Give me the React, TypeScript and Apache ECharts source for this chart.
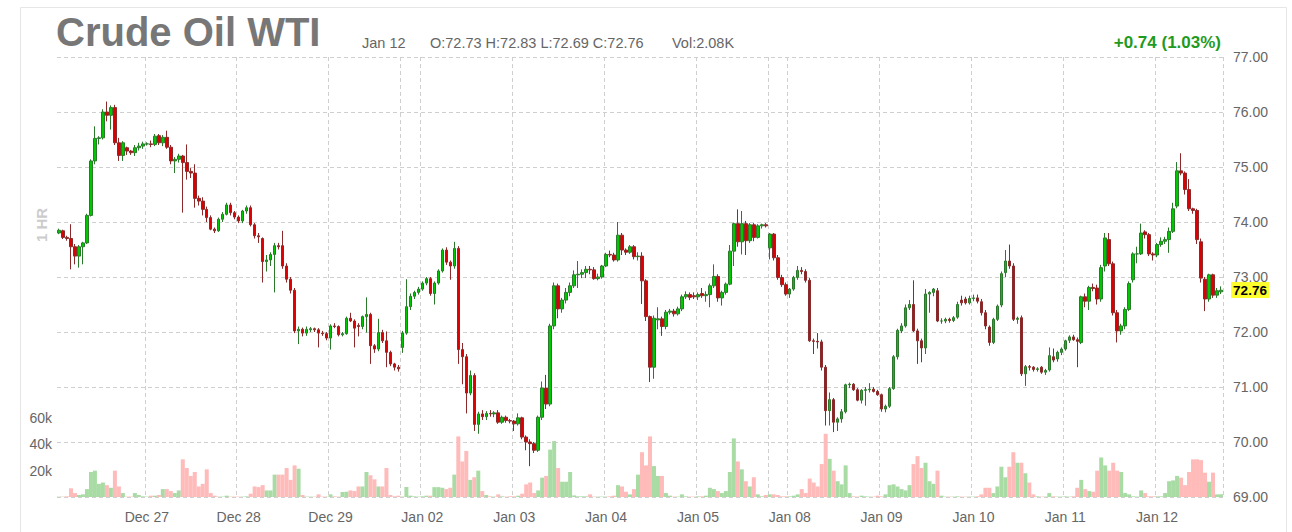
import React, { useEffect, useRef } from "react";
import * as echarts from "echarts";

type OHLC = [number, number, number, number]; // open, high, low, close

const FONT = '"Liberation Sans", Arial, Helvetica, sans-serif';

const dayLabels = ["Dec 26", "Dec 27", "Dec 28", "Dec 29", "Jan 02", "Jan 03", "Jan 04", "Jan 05", "Jan 08", "Jan 09", "Jan 10", "Jan 11", "Jan 12"];

// start of a new weekly session, counted in candles from the day's first candle
const sessionBreaks: [string, number][] = [["Dec 29", 18], ["Jan 05", 18]];

const titleText = "Crude Oil WTI";
const headerDate = "Jan 12";
const changeText = "+0.74 (1.03%)";
const intervalText = "1 HR";

const dec26: OHLC[] = [
  [73.80, 73.88, 73.78, 73.85], [73.84, 73.86, 73.69, 73.72], [73.72, 73.75, 73.66, 73.70], [73.70, 73.96, 73.14, 73.55],
  [73.55, 73.60, 73.23, 73.38], [73.38, 73.58, 73.17, 73.55], [73.55, 73.64, 73.23, 73.62], [73.62, 74.15, 73.60, 74.12],
  [74.12, 75.14, 74.10, 75.11], [75.11, 75.74, 75.05, 75.52], [75.52, 75.56, 75.41, 75.53], [75.53, 76.05, 75.50, 76.00],
  [76.00, 76.19, 75.83, 75.94], [75.94, 76.12, 75.68, 76.08], [76.08, 76.13, 75.40, 75.44], [75.44, 75.53, 75.11, 75.21],
  [75.21, 75.47, 75.11, 75.44], [75.35, 75.37, 75.22, 75.29], [75.29, 75.31, 75.22, 75.26], [75.26, 75.40, 75.20, 75.35],
  [75.35, 75.44, 75.30, 75.38], [75.38, 75.46, 75.33, 75.42],
];
const dec27: OHLC[] = [
  [75.42, 75.45, 75.39, 75.42], [75.42, 75.48, 75.36, 75.41], [75.41, 75.60, 75.38, 75.56], [75.57, 75.60, 75.40, 75.44],
  [75.44, 75.58, 75.38, 75.54], [75.54, 75.66, 75.33, 75.36], [75.36, 75.40, 75.05, 75.11], [75.11, 75.18, 74.89, 75.14],
  [75.14, 75.24, 75.08, 75.20], [75.20, 75.22, 74.17, 75.08], [75.08, 75.41, 74.77, 74.92], [74.92, 74.98, 74.80, 74.89],
  [74.89, 75.05, 74.26, 74.43], [74.43, 74.48, 74.30, 74.38], [74.38, 74.45, 74.12, 74.23], [74.23, 74.28, 74.00, 74.08],
  [74.08, 74.12, 73.85, 73.87], [73.87, 73.90, 73.80, 73.84], [73.84, 74.08, 73.82, 74.05], [74.05, 74.18, 74.00, 74.14],
  [74.14, 74.35, 74.12, 74.31], [74.31, 74.35, 74.12, 74.17], [74.17, 74.20, 74.05, 74.09],
];
const dec28: OHLC[] = [
  [74.09, 74.12, 73.98, 74.02], [74.02, 74.22, 73.98, 74.20], [74.20, 74.30, 74.15, 74.26], [74.26, 74.30, 73.92, 73.95],
  [73.95, 73.98, 73.70, 73.75], [73.75, 73.80, 73.62, 73.73], [73.70, 73.72, 72.90, 73.28], [73.28, 73.40, 73.10, 73.31],
  [73.31, 73.45, 73.20, 73.41], [73.41, 73.62, 72.72, 73.57], [73.57, 73.62, 73.50, 73.55], [73.57, 73.84, 73.15, 73.20],
  [73.20, 73.25, 72.90, 72.96], [72.96, 73.00, 72.70, 72.76], [72.76, 72.80, 71.98, 72.02], [72.02, 72.10, 71.78, 72.05],
  [72.05, 72.08, 71.92, 71.98], [71.98, 72.10, 71.93, 72.05], [72.04, 72.09, 72.00, 72.06], [72.06, 72.08, 72.00, 72.04],
  [72.04, 72.07, 71.72, 71.98], [71.98, 72.02, 71.93, 71.97], [71.97, 72.00, 71.85, 71.89],
];
const dec29: OHLC[] = [
  [71.89, 72.14, 71.68, 72.11], [72.11, 72.16, 72.07, 72.10], [72.10, 72.12, 71.92, 71.95], [71.95, 72.00, 71.92, 71.97],
  [71.97, 72.28, 71.95, 72.25], [72.25, 72.35, 72.18, 72.20], [72.20, 72.23, 71.72, 72.07], [72.12, 72.16, 71.92, 72.10],
  [72.10, 72.30, 72.05, 72.28], [72.28, 72.63, 71.99, 72.32], [72.32, 72.35, 71.42, 71.75], [71.75, 71.78, 71.62, 71.69],
  [71.69, 72.24, 71.65, 71.99], [71.99, 72.04, 71.80, 71.84], [71.84, 72.01, 71.36, 71.63], [71.63, 71.66, 71.38, 71.42],
  [71.42, 71.44, 71.30, 71.36], [71.36, 71.40, 71.28, 71.33], [71.72, 72.02, 71.62, 71.98], [71.98, 72.96, 71.95, 72.46],
  [72.46, 72.70, 72.40, 72.65], [72.65, 72.75, 72.60, 72.72], [72.72, 72.82, 72.68, 72.78],
];
const jan02: OHLC[] = [
  [72.78, 72.92, 72.75, 72.89], [72.89, 73.00, 72.85, 72.97], [72.97, 73.00, 72.66, 72.70], [72.70, 72.92, 72.50, 72.89],
  [72.89, 73.14, 72.86, 73.11], [73.11, 73.52, 73.08, 73.49], [73.49, 73.54, 73.22, 73.27], [73.27, 73.30, 72.95, 73.20],
  [73.20, 73.64, 73.15, 73.52], [73.52, 73.56, 71.42, 71.68], [71.68, 71.80, 71.05, 71.55], [71.55, 71.60, 70.52, 70.89],
  [70.89, 71.30, 70.85, 71.21], [71.21, 71.25, 70.20, 70.32], [70.32, 70.55, 70.15, 70.51], [70.51, 70.58, 70.40, 70.46],
  [70.46, 70.56, 70.40, 70.52], [70.52, 70.58, 70.46, 70.51], [70.51, 70.56, 70.45, 70.53], [70.53, 70.58, 70.33, 70.36],
  [70.36, 70.48, 70.33, 70.45], [70.45, 70.48, 70.35, 70.39], [70.39, 70.42, 70.34, 70.38],
];
const jan03: OHLC[] = [
  [70.38, 70.40, 70.20, 70.33], [70.33, 70.52, 70.30, 70.44], [70.44, 70.46, 70.05, 70.09], [70.09, 70.12, 69.85, 70.00],
  [70.00, 70.05, 69.56, 69.97], [69.97, 70.00, 69.80, 69.85], [69.85, 70.48, 69.82, 70.45], [70.45, 71.10, 70.40, 70.98],
  [70.98, 71.22, 70.60, 70.69], [70.69, 72.15, 70.65, 72.11], [72.11, 72.90, 72.05, 72.84], [72.84, 72.88, 72.25, 72.42],
  [72.42, 72.62, 72.35, 72.58], [72.58, 72.80, 72.52, 72.72], [72.72, 72.90, 72.65, 72.84], [72.84, 73.12, 72.80, 73.04],
  [73.04, 73.29, 72.80, 73.05], [73.05, 73.14, 72.98, 73.08], [73.08, 73.20, 72.98, 73.14], [73.14, 73.20, 73.05, 73.13],
  [73.13, 73.18, 72.95, 72.97], [72.97, 73.06, 72.94, 73.00], [73.00, 73.22, 72.97, 73.20],
];
const jan04: OHLC[] = [
  [73.20, 73.44, 73.18, 73.41], [73.41, 73.48, 73.36, 73.40], [73.40, 73.44, 73.28, 73.31], [73.31, 74.00, 73.28, 73.76],
  [73.76, 73.80, 73.40, 73.49], [73.49, 73.52, 73.40, 73.45], [73.45, 73.58, 73.42, 73.55], [73.55, 73.58, 73.32, 73.37],
  [73.37, 73.45, 73.30, 73.38], [73.38, 73.45, 72.51, 72.93], [72.93, 72.96, 72.20, 72.28], [72.28, 72.30, 71.09, 71.36],
  [71.36, 72.30, 71.15, 72.25], [72.22, 72.45, 72.05, 72.24], [72.24, 72.28, 71.93, 72.10], [72.10, 72.40, 72.05, 72.36],
  [72.36, 72.42, 72.32, 72.38], [72.38, 72.42, 72.28, 72.33], [72.33, 72.46, 72.30, 72.42], [72.42, 72.68, 72.38, 72.64],
  [72.64, 72.74, 72.60, 72.68], [72.68, 72.72, 72.58, 72.63], [72.66, 72.72, 72.60, 72.64],
];
const jan05: OHLC[] = [
  [72.64, 72.72, 72.58, 72.68], [72.70, 72.80, 72.62, 72.66], [72.66, 72.74, 72.55, 72.68], [72.68, 72.88, 72.45, 72.84],
  [72.84, 73.23, 72.80, 73.01], [73.01, 73.05, 72.55, 72.62], [72.62, 72.75, 72.48, 72.72], [72.72, 72.90, 72.68, 72.87],
  [72.87, 73.58, 72.85, 73.47], [73.47, 73.99, 73.20, 73.97], [73.97, 74.23, 73.55, 73.64], [73.64, 74.20, 73.41, 73.97],
  [73.97, 74.02, 73.40, 73.66], [73.66, 73.98, 73.62, 73.95], [73.95, 73.98, 73.65, 73.72], [73.72, 73.96, 73.70, 73.93],
  [73.93, 73.97, 73.88, 73.95], [73.95, 73.98, 73.90, 73.93], [73.53, 73.80, 73.32, 73.78], [73.78, 73.80, 73.30, 73.35],
  [73.35, 73.40, 72.95, 72.99], [72.99, 73.04, 72.82, 72.86], [72.86, 72.90, 72.66, 72.69],
];
const jan08: OHLC[] = [
  [72.69, 72.80, 72.62, 72.78], [72.78, 73.02, 72.75, 72.99], [72.99, 73.20, 72.95, 73.12], [73.12, 73.18, 73.05, 73.10],
  [73.10, 73.14, 72.90, 72.94], [72.94, 72.98, 71.82, 71.84], [71.84, 71.88, 71.60, 71.83], [71.83, 71.98, 71.70, 71.82],
  [71.82, 71.86, 71.30, 71.36], [71.36, 71.40, 70.30, 70.57], [70.57, 70.90, 70.30, 70.77], [70.77, 70.80, 70.18, 70.36],
  [70.36, 70.45, 70.20, 70.42], [70.42, 70.60, 70.35, 70.55], [70.55, 71.06, 70.52, 71.04], [71.04, 71.08, 70.98, 71.05],
  [71.05, 71.07, 70.93, 70.95], [70.95, 70.98, 70.74, 70.76], [70.76, 70.96, 70.70, 70.94], [70.94, 71.00, 70.66, 70.95],
  [70.95, 71.07, 70.90, 70.96], [70.96, 71.00, 70.90, 70.92], [70.92, 70.95, 70.84, 70.86],
];
const jan09: OHLC[] = [
  [70.86, 70.88, 70.55, 70.60], [70.60, 70.68, 70.54, 70.65], [70.65, 71.00, 70.62, 70.97], [70.97, 71.58, 70.95, 71.55],
  [71.55, 72.06, 71.50, 72.03], [72.02, 72.16, 71.98, 72.11], [72.11, 72.50, 72.08, 72.44], [72.44, 72.58, 72.40, 72.50],
  [72.50, 72.94, 72.00, 72.02], [72.02, 72.06, 71.42, 71.84], [71.84, 71.88, 71.45, 71.71], [71.71, 72.78, 71.60, 72.69],
  [72.69, 72.74, 72.35, 72.72], [72.72, 72.80, 72.65, 72.78], [72.75, 72.80, 72.18, 72.20], [72.20, 72.25, 72.15, 72.20],
  [72.20, 72.26, 72.16, 72.23], [72.23, 72.26, 72.17, 72.21], [72.21, 72.29, 72.18, 72.26], [72.27, 72.55, 72.24, 72.50],
  [72.58, 72.66, 72.48, 72.53], [72.60, 72.64, 72.50, 72.53], [72.53, 72.66, 72.50, 72.61],
];
const jan10: OHLC[] = [
  [72.61, 72.68, 72.56, 72.62], [72.62, 72.68, 72.52, 72.56], [72.55, 72.60, 72.30, 72.35], [72.35, 72.40, 72.05, 72.11],
  [72.09, 72.12, 71.75, 71.81], [71.81, 72.26, 71.78, 72.23], [72.23, 72.50, 72.20, 72.47], [72.49, 73.10, 72.45, 73.06],
  [73.08, 73.49, 73.00, 73.29], [73.29, 73.59, 73.15, 73.20], [73.20, 73.25, 72.20, 72.23], [72.23, 72.28, 72.15, 72.25],
  [72.26, 72.30, 71.20, 71.24], [71.24, 71.40, 71.02, 71.37], [71.37, 71.40, 71.30, 71.36], [71.36, 71.38, 71.28, 71.32],
  [71.32, 71.36, 71.28, 71.33], [71.36, 71.38, 71.24, 71.27], [71.27, 71.33, 71.22, 71.30], [71.31, 71.72, 71.28, 71.57],
  [71.55, 71.70, 71.45, 71.49], [71.51, 71.66, 71.46, 71.63], [71.63, 71.72, 71.58, 71.69],
];
const jan11: OHLC[] = [
  [71.69, 71.86, 71.66, 71.84], [71.85, 71.94, 71.80, 71.91], [71.91, 71.95, 71.84, 71.86], [71.86, 71.90, 71.36, 71.83],
  [71.81, 72.66, 71.78, 72.64], [72.64, 72.70, 72.45, 72.56], [72.56, 72.84, 72.40, 72.81], [72.81, 72.88, 72.74, 72.79],
  [72.80, 72.86, 72.50, 72.60], [72.60, 73.22, 72.55, 73.17], [73.20, 73.80, 73.10, 73.71], [73.68, 73.80, 73.20, 73.24],
  [73.24, 73.28, 72.30, 72.35], [72.35, 72.40, 71.81, 72.02], [72.02, 72.15, 71.95, 72.11], [72.11, 72.45, 72.05, 72.41],
  [72.41, 72.92, 72.38, 72.88], [72.95, 73.45, 72.90, 73.42], [73.42, 73.55, 73.25, 73.42], [73.42, 73.97, 73.40, 73.80],
  [73.82, 73.85, 73.70, 73.77], [73.77, 73.80, 73.38, 73.42], [73.42, 73.45, 73.30, 73.40],
];
const jan12: OHLC[] = [
  [73.40, 73.62, 73.36, 73.59], [73.59, 73.72, 73.55, 73.65], [73.65, 73.73, 73.60, 73.68], [73.68, 73.90, 73.44, 73.83],
  [73.83, 74.35, 73.80, 74.24], [74.29, 75.09, 74.25, 74.93], [74.93, 75.25, 74.85, 74.89], [74.89, 74.92, 74.50, 74.59],
  [74.59, 74.78, 74.20, 74.24], [74.24, 74.26, 74.15, 74.21], [74.21, 74.24, 73.60, 73.68], [73.64, 73.70, 72.90, 72.98],
  [72.96, 73.00, 72.38, 72.60], [72.60, 73.06, 72.55, 73.04], [73.04, 73.06, 72.62, 72.67], [72.67, 72.80, 72.62, 72.75],
  [72.73, 72.83, 72.69, 72.76],
];

// volume, thousands of contracts
const volDec26 = [0.3, 0.3, 0.5, 6.6, 3, 1.5, 2, 6, 19, 20, 10, 11, 9, 7, 20, 8, 3, 0.3, 0.3, 3, 1.5, 0.5];
const volDec27 = [0.3, 1, 1, 1.5, 6, 6, 4.5, 3, 5, 28.6, 22, 16, 19, 8, 10, 21, 3, 1, 0.3, 0.3, 1, 0.3, 0.3];
const volDec28 = [0.3, 0.3, 0.5, 2.5, 8, 7.5, 9, 5, 5, 17, 17, 17, 22, 13, 24, 21.5, 1.5, 0.3, 0.3, 0.3, 2, 0.3, 0.3];
const volDec29 = [2, 0.5, 0.3, 3.8, 4, 5, 4.5, 8, 8, 19, 16.5, 13.4, 8, 8, 22, 1.5, 0.5, 1, 0.3, 7.6, 1, 0.5, 0.3];
const volJan02 = [0.5, 1, 1, 7.5, 7.5, 7, 6, 7, 17, 46, 27, 35, 13, 15, 20, 4.5, 1.5, 0.5, 0.3, 2, 0.5, 0.3, 0.5];
const volJan03 = [0.5, 1, 2.5, 9.6, 11, 3, 5, 14.7, 16, 36, 42.5, 22, 11.6, 11.6, 19, 1.2, 0.5, 0.5, 0.5, 2, 0.3, 0.3, 0.3];
const volJan04 = [0.3, 0.5, 1, 9, 8, 4, 2, 6, 17, 34, 24, 46, 23.5, 16, 16, 3, 1, 0.3, 0.3, 2, 0.5, 0.3, 0.3];
const volJan05 = [0.5, 0.5, 1, 7, 6, 4.5, 3, 4.5, 19, 44.5, 27, 21, 12, 8, 15, 2, 0.5, 1.5, 2, 2, 1.5, 0.5, 0.5];
const volJan08 = [0.5, 1, 2, 6, 3, 14, 11, 8, 25, 48, 29, 20, 12, 9.6, 24, 3, 0.5, 0.3, 1, 0.5, 0.3, 0.3, 1];
const volJan09 = [0.5, 2, 9, 9.6, 8, 6, 5, 9, 25, 31, 22, 26, 12, 10, 20, 1, 0.3, 0.3, 0.3, 0.5, 0.3, 0.3, 0.3];
const volJan10 = [0.3, 0.5, 2, 7, 7, 3, 8, 23, 15, 23, 34, 26, 26, 18, 11, 2, 0.5, 0.3, 0.3, 3, 0.5, 0.3, 0.3];
const volJan11 = [0.5, 0.3, 0.5, 7, 13, 6, 4.5, 4, 20, 30, 24, 20, 26, 20, 19, 3, 2, 0.5, 0.3, 5, 3, 0.5, 0.5];
const volJan12 = [0.5, 0.5, 3, 12, 12.6, 16, 14.7, 9, 19, 28.6, 28.6, 28, 18.5, 11.6, 18.5, 2, 2.08];

const priceDays = [dec26, dec27, dec28, dec29, jan02, jan03, jan04, jan05, jan08, jan09, jan10, jan11, jan12];
const volumeDays = [volDec26, volDec27, volDec28, volDec29, volJan02, volJan03, volJan04, volJan05, volJan08, volJan09, volJan10, volJan11, volJan12];

const priceMin = 69;
const priceMax = 77;
const priceStep = 1;
const volMax = 60;
const volStep = 20;

const UP = "#00c800";
const UP_BORDER = "#2b7a2b";
const DOWN = "#dd0000";
const DOWN_BORDER = "#8a2a2a";
const VOL_UP = "#a9dca4";
const VOL_DOWN = "#ffbaba";
const GRID = "#cfcfcf";
const LABEL = "#666";

export default function App() {
  const ref = useRef<HTMLDivElement>(null);

  useEffect(() => {
    document.body.style.margin = "0";
    if (!ref.current) return;
    const chart = echarts.init(ref.current, undefined, { renderer: "svg" });

    const categories: string[] = [];
    const dayStart = new Set<number>();
    const lineIdx = new Set<number>();
    const startOf: Record<string, number> = {};
    priceDays.forEach((day, d) => {
      startOf[dayLabels[d]] = categories.length;
      if (d > 0) {
        dayStart.add(categories.length);
        lineIdx.add(categories.length);
      }
      day.forEach((_, j) => categories.push(`${dayLabels[d]}|${j}`));
    });
    sessionBreaks.forEach(([lab, off]) => lineIdx.add(startOf[lab] + off));

    const all: OHLC[] = priceDays.flat();
    const vols: number[] = volumeDays.flat();
    const candleData = all.map(([o, h, l, c]) => [o, c, l, h]);
    const volumeData = vols.map((v, i) => {
      const [o, , , c] = all[i];
      let up = c > o;
      if (c === o) up = i === 0 ? true : all[i - 1][3] <= c;
      return { value: v, itemStyle: { color: up ? VOL_UP : VOL_DOWN } };
    });
    const last = all[all.length - 1];
    const lastVol = vols[vols.length - 1];
    const ohlcText = `O:${last[0].toFixed(2)} H:${last[1].toFixed(2)} L:${last[2].toFixed(2)} C:${last[3].toFixed(2)}`;

    const option: any = {
      animation: false,
      backgroundColor: "#fff",
      textStyle: { fontFamily: FONT },
      grid: [
        { left: 57, right: 69, top: 57, bottom: 35 },
        { left: 57, right: 69, top: 418, bottom: 35 },
      ],
      xAxis: [
        {
          type: "category",
          gridIndex: 0,
          data: categories,
          boundaryGap: true,
          axisLine: { show: false },
          axisTick: { show: false },
          axisLabel: {
            color: LABEL,
            fontSize: 14,
            fontFamily: FONT,
            margin: 13,
            interval: (i: number) => dayStart.has(i),
            formatter: (v: string) => v.split("|")[0],
          },
          splitLine: {
            show: true,
            interval: (i: number) => lineIdx.has(i),
            lineStyle: { color: GRID, type: [4, 3], width: 1 },
          },
        },
        { type: "category", gridIndex: 1, data: categories, show: false, boundaryGap: true },
      ],
      yAxis: [
        {
          type: "value",
          gridIndex: 0,
          position: "right",
          min: priceMin,
          max: priceMax,
          interval: priceStep,
          axisLine: { show: false },
          axisTick: { show: false },
          axisLabel: { color: LABEL, fontSize: 14, fontFamily: FONT, margin: 10, formatter: (v: number) => v.toFixed(2) },
          splitLine: { show: true, lineStyle: { color: GRID, type: [4, 3], width: 1 } },
        },
        {
          type: "value",
          gridIndex: 1,
          position: "left",
          min: 0,
          max: volMax,
          interval: volStep,
          axisLine: { show: false },
          axisTick: { show: false },
          splitLine: { show: false },
          axisLabel: {
            color: LABEL,
            fontSize: 14,
            fontFamily: FONT,
            margin: 5,
            showMaxLabel: true,
            formatter: (v: number) => (v === 0 ? "" : `${v}k`),
          },
        },
      ],
      series: [
        {
          type: "bar",
          xAxisIndex: 1,
          yAxisIndex: 1,
          data: volumeData,
          barCategoryGap: "0%",
          z: 1,
        },
        {
          type: "candlestick",
          xAxisIndex: 0,
          yAxisIndex: 0,
          data: candleData,
          barWidth: 3,
          z: 3,
          itemStyle: { color: UP, color0: DOWN, borderColor: UP_BORDER, borderColor0: DOWN_BORDER, borderWidth: 1 },
        },
      ],
      graphic: [
        { id: "frame", type: "rect", shape: { x: 20.5, y: 7.5, width: 1266, height: 560 }, style: { fill: "none", stroke: "#e6e6e6", lineWidth: 1 }, silent: true },
        { id: "title", type: "text", x: 56, y: 32, style: { text: titleText, fill: "#777", font: `bold 40px ${FONT}`, verticalAlign: "middle" } },
        { id: "date", type: "text", x: 362, y: 43, style: { text: headerDate, fill: LABEL, font: `14.5px ${FONT}`, verticalAlign: "middle" } },
        { id: "ohlc", type: "text", x: 430, y: 43, style: { text: ohlcText, fill: LABEL, font: `14.5px ${FONT}`, verticalAlign: "middle" } },
        { id: "vol", type: "text", x: 672, y: 43, style: { text: `Vol:${lastVol.toFixed(2)}K`, fill: LABEL, font: `14.5px ${FONT}`, verticalAlign: "middle" } },
        { id: "chg", type: "text", x: 1221, y: 42, style: { text: changeText, fill: "#1f9b1f", font: `bold 17px ${FONT}`, align: "right", verticalAlign: "middle" } },
        { id: "interval", type: "text", x: 41, y: 225, rotation: Math.PI / 2, style: { text: intervalText, fill: "#cccccc", font: `bold 15px ${FONT}`, align: "center", verticalAlign: "middle" } },
      ],
    };

    chart.setOption(option);

    // current-price tag on the price axis, positioned through the axis scale
    const yLast = chart.convertToPixel({ yAxisIndex: 0 }, last[3]) as number;
    chart.setOption({
      graphic: [
        { id: "lastBox", type: "rect", z: 10, shape: { x: 1231, y: Math.round(yLast) - 8, width: 38, height: 16 }, style: { fill: "#ffff2e" }, silent: true },
        { id: "lastText", type: "text", z: 11, x: 1250, y: Math.round(yLast), style: { text: last[3].toFixed(2), fill: "#000", font: `bold 13.5px ${FONT}`, align: "center", verticalAlign: "middle" } },
      ],
    });

    return () => chart.dispose();
  }, []);

  return <div ref={ref} style={{ width: 1292, height: 532 }} />;
}
